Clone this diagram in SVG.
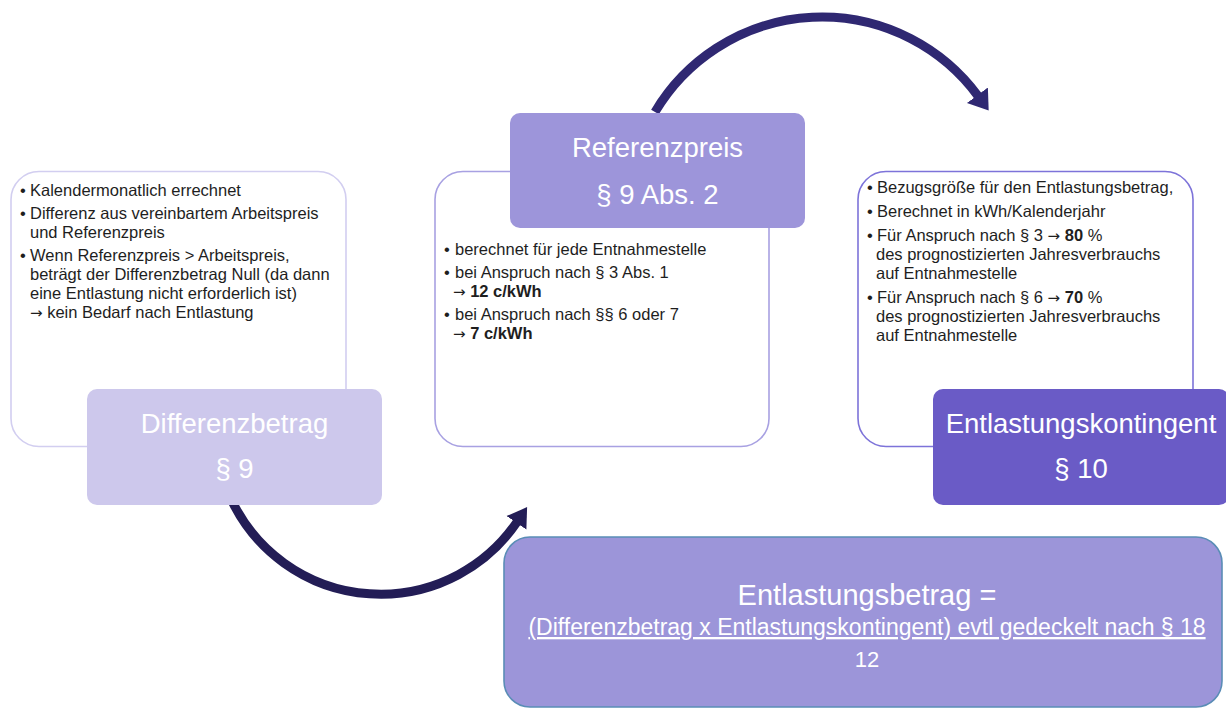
<svg xmlns="http://www.w3.org/2000/svg" width="1226" height="709" viewBox="0 0 1226 709">
<style>
.body{font-family:"Liberation Sans",Arial,sans-serif;font-size:16.5px;fill:#1e1e1e}
.b{font-weight:bold}
.ar{font-family:"DejaVu Sans",sans-serif;font-size:15px}
.head{font-family:"Liberation Sans",Arial,sans-serif;font-size:27.5px;fill:#ffffff;text-anchor:middle}
.tb{fill:#ffffff;stroke-width:1.6}
.arc{fill:none;stroke-width:9}
</style>
<defs>
<marker id="ahTop" markerUnits="userSpaceOnUse" markerWidth="20" markerHeight="28" refX="1" refY="13" orient="auto" viewBox="0 0 20 26">
<path d="M0,0 L19,13 L0,26 z" fill="#2F2872"/>
</marker>
<marker id="ahBot" markerUnits="userSpaceOnUse" markerWidth="20" markerHeight="28" refX="1" refY="12" orient="auto" viewBox="0 0 20 24">
<path d="M0,0 L19,12 L0,24 z" fill="#231D56"/>
</marker>
</defs>
<rect width="1226" height="709" fill="#ffffff"/>

<g id="connectors">
<path class="arc" d="M655,112 A194,194 0 0,1 978,96" stroke="#2F2872" marker-end="url(#ahTop)"/>
<path class="arc" d="M233,503 A165,165 0 0,0 517,522" stroke="#231D56" marker-end="url(#ahBot)"/>
</g>

<g id="differenzbetrag-text">
<rect class="tb" x="11" y="171.5" width="335" height="275" rx="28" stroke="#D2CEF0"/>
<text class="body" x="20" y="196">•</text><text class="body" x="30" y="196">Kalendermonatlich errechnet</text>
<text class="body" x="20" y="219">•</text><text class="body" x="30" y="219">Differenz aus vereinbartem Arbeitspreis</text>
<text class="body" x="30" y="238">und Referenzpreis</text>
<text class="body" x="20" y="261">•</text><text class="body" x="30" y="261">Wenn Referenzpreis &gt; Arbeitspreis,</text>
<text class="body" x="30" y="280">beträgt der Differenzbetrag Null (da dann</text>
<text class="body" x="30" y="299">eine Entlastung nicht erforderlich ist)</text>
<text class="body" x="30" y="318"><tspan class="ar">→</tspan> kein Bedarf nach Entlastung</text>
</g>

<g id="referenzpreis-text">
<rect class="tb" x="435" y="171.5" width="334" height="275" rx="28" stroke="#A8A1E2"/>
<text class="body" x="444" y="255">•</text><text class="body" x="455" y="255">berechnet für jede Entnahmestelle</text>
<text class="body" x="444" y="278">•</text><text class="body" x="455" y="278">bei Anspruch nach § 3 Abs. 1</text>
<text class="body" x="453" y="297"><tspan class="ar">→</tspan> <tspan class="b">12 c/kWh</tspan></text>
<text class="body" x="444" y="320">•</text><text class="body" x="455" y="320">bei Anspruch nach §§ 6 oder 7</text>
<text class="body" x="453" y="339"><tspan class="ar">→</tspan> <tspan class="b">7 c/kWh</tspan></text>
</g>

<g id="entlastungskontingent-text">
<rect class="tb" x="858" y="171.5" width="335" height="275" rx="28" stroke="#7D73D9"/>
<text class="body" x="867" y="193">•</text><text class="body" x="877" y="193">Bezugsgröße für den Entlastungsbetrag,</text>
<text class="body" x="867" y="217">•</text><text class="body" x="877" y="217">Berechnet in kWh/Kalenderjahr</text>
<text class="body" x="867" y="241">•</text><text class="body" x="877" y="241">Für Anspruch nach § 3 <tspan class="ar">→</tspan> <tspan class="b">80</tspan> %</text>
<text class="body" x="876" y="260">des prognostizierten Jahresverbrauchs</text>
<text class="body" x="876" y="279">auf Entnahmestelle</text>
<text class="body" x="867" y="303">•</text><text class="body" x="877" y="303">Für Anspruch nach § 6 <tspan class="ar">→</tspan> <tspan class="b">70</tspan> %</text>
<text class="body" x="876" y="322">des prognostizierten Jahresverbrauchs</text>
<text class="body" x="876" y="341">auf Entnahmestelle</text>
</g>

<g id="differenzbetrag">
<rect x="87" y="389" width="295" height="116" rx="10" fill="#CDC8EC"/>
<text class="head" x="234.5" y="433">Differenzbetrag</text>
<text class="head" x="234.5" y="478">§ 9</text>
</g>

<g id="referenzpreis">
<rect x="510" y="113" width="295" height="115" rx="10" fill="#9D95DA"/>
<text class="head" x="657.5" y="157">Referenzpreis</text>
<text class="head" x="657.5" y="204">§ 9 Abs. 2</text>
</g>

<g id="entlastungskontingent">
<rect x="933" y="389" width="296" height="116" rx="10" fill="#6A5BC6"/>
<text class="head" x="1081" y="433">Entlastungskontingent</text>
<text class="head" x="1081" y="478">§ 10</text>
</g>

<g id="entlastungsbetrag">
<rect x="504" y="537" width="718" height="170" rx="26" fill="#9C95D9" stroke="#5A8DB6" stroke-width="1.6"/>
<text x="867" y="605" text-anchor="middle" font-family="Liberation Sans, Arial, sans-serif" font-size="29" fill="#ffffff">Entlastungsbetrag =</text>
<text x="867" y="635" text-anchor="middle" font-family="Liberation Sans, Arial, sans-serif" font-size="23" fill="#ffffff" text-decoration="underline">(Differenzbetrag x Entlastungskontingent) evtl gedeckelt nach § 18</text>
<text x="867" y="667" text-anchor="middle" font-family="Liberation Sans, Arial, sans-serif" font-size="22" fill="#ffffff">12</text>
</g>
</svg>
